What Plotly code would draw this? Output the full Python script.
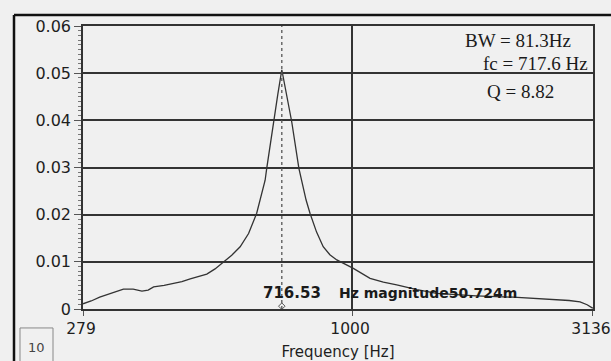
import plotly.graph_objects as go

# Data
freq_hz = [279, 290, 302, 320, 338, 354, 369, 380, 390, 410, 428, 446, 464, 484, 502, 522, 543, 565, 588, 612,
           636, 646, 662, 667, 688, 703, 716.53, 733, 751, 777, 787, 804, 819, 845, 872, 900, 930, 1006, 1089,
           1160, 1236, 1360, 1494, 1800, 2148, 2400, 2594, 2800, 2949, 3050, 3117, 3136]
magnitude = [0.0011, 0.0017, 0.0025, 0.0034, 0.0042, 0.0042, 0.0038, 0.0040, 0.0047, 0.0050, 0.0054, 0.0058,
             0.0064, 0.0069, 0.0074, 0.0085, 0.0100, 0.0114, 0.0132, 0.0160, 0.0203, 0.0231, 0.0273, 0.0298,
             0.0397, 0.0455, 0.050724, 0.0450, 0.0397, 0.0298, 0.0273, 0.0231, 0.0203, 0.0163, 0.0132, 0.0115,
             0.0104, 0.0086, 0.0065, 0.0057, 0.0051, 0.0041, 0.0033, 0.0028, 0.0025, 0.0022, 0.0019, 0.0018,
             0.0015, 0.0009, 0.0003, 0.0002]
x_ticks = [279, 1000, 3136]
x_tick_labels = ["279", "1000", "3136"]
y_ticks = [0, 0.01, 0.02, 0.03, 0.04, 0.05, 0.06]
y_tick_labels = ["0", "0.01", "0.02", "0.03", "0.04", "0.05", "0.06"]
peak_freq = 716.53
peak_mag = 0.050724
info_lines = ["BW = 81.3Hz", "fc = 717.6 Hz", "Q = 8.82"]

BG = "#f0f0f0"
INK = "#1e1e1e"

fig = go.Figure()
fig.add_trace(go.Scatter(x=freq_hz, y=magnitude, mode="lines",
                         line=dict(color="#333333", width=1.3), showlegend=False))
# cursor line
fig.add_trace(go.Scatter(x=[peak_freq, peak_freq], y=[0, 0.06], mode="lines",
                         line=dict(color="#555555", width=1.3, dash="dot"), showlegend=False))
fig.add_trace(go.Scatter(x=[peak_freq], y=[0.0006], mode="markers",
                         marker=dict(symbol="diamond-open", size=5, color="#555555"), showlegend=False))

fig.update_layout(
    width=611, height=361,
    margin=dict(l=83, r=18, t=26, b=52),
    paper_bgcolor=BG, plot_bgcolor=BG,
    font=dict(family="DejaVu Sans", size=16, color=INK),
)
fig.update_xaxes(type="log", range=[2.44560, 3.49640], automargin=False,
                 tickvals=x_ticks, ticktext=x_tick_labels, ticklabeloverflow="allow", ticklabelshift=-2,
                 showgrid=True, gridcolor="#333333", gridwidth=1.5,
                 showline=True, linecolor="#333333", linewidth=1.5, mirror=True,
                 ticks="outside", ticklen=5, tickcolor="#555555",
                 tickfont=dict(family="DejaVu Sans", size=15.5, color=INK),
                 title=dict(text="Frequency [Hz]", font=dict(family="DejaVu Sans", size=15, color=INK), standoff=10),
                 zeroline=False)
fig.update_yaxes(range=[0, 0.06], tickvals=y_ticks, ticktext=y_tick_labels, automargin=False,
                 showgrid=True, gridcolor="#333333", gridwidth=1.5,
                 showline=True, linecolor="#333333", linewidth=1.5, mirror=True,
                 ticks="outside", ticklen=7, tickcolor="#555555",
                 minor=dict(dtick=0.001, ticks="outside", ticklen=3, tickcolor="#777777", showgrid=False),
                 tickfont=dict(family="DejaVu Sans", size=16, color=INK),
                 zeroline=False)

# outer frame (left and top)
fig.add_shape(type="line", xref="paper", yref="paper", x0=-0.1353, x1=-0.1353, y0=1.0389, y1=-0.2,
              line=dict(color="#111111", width=2.5))
fig.add_shape(type="line", xref="paper", yref="paper", x0=-0.1353, x1=1.05, y0=1.0389, y1=1.0389,
              line=dict(color="#111111", width=2.5))
# "10" box
fig.add_shape(type="rect", xref="paper", yref="paper", x0=-0.1235, x1=-0.0588, y0=-0.067, y1=-0.2,
              line=dict(color="#888888", width=1), fillcolor=BG)
fig.add_annotation(xref="paper", yref="paper", x=-0.091, y=-0.137, text="10", showarrow=False,
                   xanchor="center", yanchor="middle",
                   font=dict(family="DejaVu Sans", size=13, color="#444444"))

# info text
serif = dict(family="Liberation Serif", size=19, color="#1a1a1a")
fig.add_annotation(xref="paper", yref="paper", x=0.96, y=0.947, text=info_lines[0], showarrow=False,
                   xanchor="right", yanchor="middle", font=serif)
fig.add_annotation(xref="paper", yref="paper", x=0.995, y=0.866, text=info_lines[1], showarrow=False,
                   xanchor="right", yanchor="middle", font=serif)
fig.add_annotation(xref="paper", yref="paper", x=0.857, y=0.77, text=info_lines[2], showarrow=False,
                   xanchor="center", yanchor="middle", font=serif)

# cursor readout
fig.add_annotation(x=2.8752, y=0.0033, text="<b>%.2f</b>" % peak_freq, showarrow=False,
                   xanchor="center", yanchor="middle", font=dict(family="DejaVu Sans", size=15, color="#1a1a1a"))
fig.add_annotation(xref="paper", yref="paper", x=0.499, y=0.055,
                   text="<b>Hz magnitude%.3fm</b>" % (peak_mag * 1000), showarrow=False,
                   xanchor="left", yanchor="middle", font=dict(family="DejaVu Sans", size=14, color="#1a1a1a"))

fig.write_html("out.html", config={"displayModeBar": False},
               post_script="document.body.style.margin='0';document.body.style.overflow='hidden';")
